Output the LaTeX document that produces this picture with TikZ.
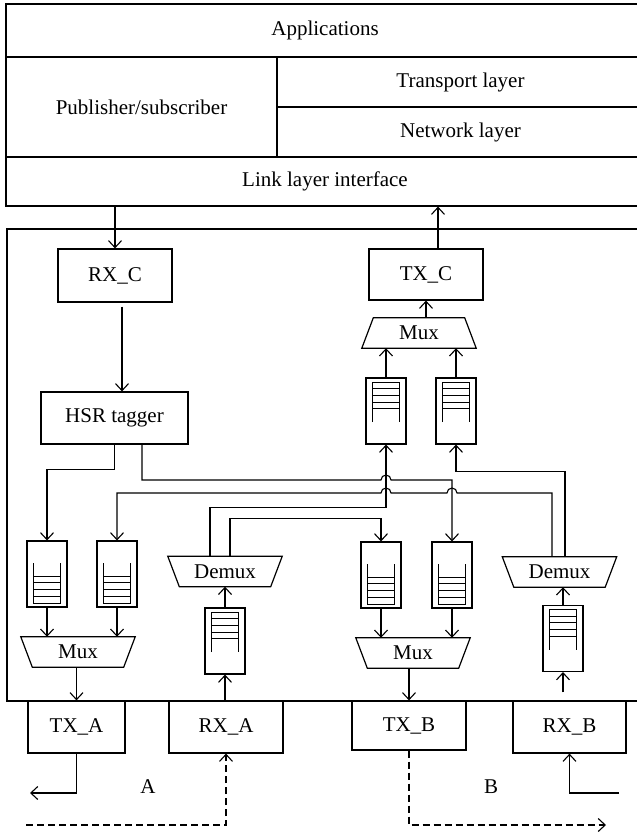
\documentclass[tikz,border=0pt]{standalone}
\usepackage{fontspec}
\setmainfont{Liberation Serif}
\usetikzlibrary{arrows.meta}
\newcommand\trapdown[1]{\draw[line width=1.2pt] (#1.north west) -- (#1.north east) -- ([xshift=-11.5pt]#1.south east) -- ([xshift=11.5pt]#1.south west) -- cycle;}
\newcommand\trapup[1]{\draw[line width=1.2pt] ([xshift=11.5pt]#1.north west) -- ([xshift=-11.5pt]#1.north east) -- (#1.south east) -- (#1.south west) -- cycle;}
\begin{document}
\begin{tikzpicture}[x=1pt,y=-1pt,
  every node/.style={font=\fontsize{21}{24}\selectfont},
  box/.style={draw, rectangle, inner sep=0pt, line width=1.2pt},
  arr/.style={-{Straight Barb[length=7pt,width=13pt]}, line width=1.1pt},
  mux/.style={inner sep=0pt, minimum width=114pt, minimum height=30pt},
  qbox/.style={draw, rectangle, line width=1.1pt, minimum width=40pt, minimum height=66pt, inner sep=0pt},
  qtop/.style={qbox, path picture={
    \draw[line width=1pt] ([shift={(6.5pt,-44pt)}]path picture bounding box.north west) -- ([shift={(6.5pt,-4pt)}]path picture bounding box.north west) -- ([shift={(33.5pt,-4pt)}]path picture bounding box.north west) -- ([shift={(33.5pt,-44pt)}]path picture bounding box.north west);
    \foreach \k in {1,2,3,4} \draw[line width=1pt] ([shift={(6.5pt,{-4pt-6.7pt*\k})}]path picture bounding box.north west) -- ++(27pt,0pt);
  }},
  qbot/.style={qbox, path picture={
    \draw[line width=1pt] ([shift={(6.5pt,-22pt)}]path picture bounding box.north west) -- ([shift={(6.5pt,-62pt)}]path picture bounding box.north west) -- ([shift={(33.5pt,-62pt)}]path picture bounding box.north west) -- ([shift={(33.5pt,-22pt)}]path picture bounding box.north west);
    \foreach \k in {1,2,3,4} \draw[line width=1pt] ([shift={(6.5pt,{-62pt+6.7pt*\k})}]path picture bounding box.north west) -- ++(27pt,0pt);
  }}
]
\useasboundingbox (0,0) rectangle (637,833);

% upper protocol stack
\node[box, minimum width=638pt, minimum height=53pt] (apps) at (325,30.5) {Applications};
\node[box, minimum width=271pt, minimum height=100pt] (pubsub) at (141.5,107) {Publisher/subscriber};
\node[box, minimum width=367pt, minimum height=50pt] (transport) at (460.5,82) {Transport layer};
\node[box, minimum width=367pt, minimum height=50pt] (network) at (460.5,132) {Network layer};
\node[box, minimum width=638pt, minimum height=49pt] (link) at (325,181.5) {Link layer interface};

% main frame
\node[box, minimum width=637pt, minimum height=472pt] (frame) at (325.5,465) {};

% C side
\node[box, minimum width=114pt, minimum height=53pt] (rxc) at (115,275.5) {RX\_C};
\node[box, minimum width=114pt, minimum height=51pt] (txc) at (426,274.5) {TX\_C};
\node[box, minimum width=147pt, minimum height=52pt] (hsr) at (114.5,418) {HSR tagger};
\node[mux] (muxC) at (419,333) {Mux};
\trapup{muxC}
\node[qtop] (qC1) at (386,411) {};
\node[qtop] (qC2) at (456,411) {};

% A side
\node[qbot] (qA1) at (47,574) {};
\node[qbot] (qA2) at (117,574) {};
\node[mux] (muxA) at (78,652) {Mux};
\trapdown{muxA}
\node[mux] (demuxA) at (225,571.5) {Demux};
\trapdown{demuxA}
\node[qtop] (qA3) at (225,641) {};

% B side
\node[qbot] (qB1) at (381,575) {};
\node[qbot] (qB2) at (452,575) {};
\node[mux] (muxB) at (413,653) {Mux};
\trapdown{muxB}
\node[mux] (demuxB) at (559.5,572) {Demux};
\trapdown{demuxB}
\node[qtop] (qB3) at (563,638.5) {};

% ports
\node[box, minimum width=97pt, minimum height=52pt] (txa) at (76.5,727) {TX\_A};
\node[box, minimum width=114pt, minimum height=52pt] (rxa) at (226,727) {RX\_A};
\node[box, minimum width=114pt, minimum height=49pt] (txb) at (409,725.5) {TX\_B};
\node[box, minimum width=113pt, minimum height=52pt] (rxb) at (569.5,727) {RX\_B};

\node (labA) at (148,787) {A};
\node (labB) at (491,787) {B};

% stack connections
\draw[arr] (rxc.north |- link.south) -- (rxc.north);
\coordinate (tcup) at ([xshift=12pt]txc.north);
\draw[arr] (tcup) -- (tcup |- link.south);
\coordinate (rh) at ([xshift=7pt]rxc.south);
\draw[arr, shorten <=4pt] (rh) -- (rh |- hsr.north);

% C mux
\draw[arr] (muxC.north -| txc.south) -- (txc.south);
\draw[arr] (qC1.north) -- (qC1.north |- muxC.south);
\draw[arr] (qC2.north) -- (qC2.north |- muxC.south);

% A mux / demux
\draw[arr] (qA1.south) -- (qA1.south |- muxA.north);
\draw[arr] (qA2.south) -- (qA2.south |- muxA.north);
\draw[arr] (txa.north |- muxA.south) -- (txa.north);
\draw[arr] (qA3.north) -- (qA3.north |- demuxA.south);
\draw[arr] (qA3.south |- rxa.north) -- (qA3.south);

% B mux / demux
\draw[arr] (qB1.south) -- (qB1.south |- muxB.north);
\draw[arr] (qB2.south) -- (qB2.south |- muxB.north);
\draw[arr] (txb.north |- muxB.south) -- (txb.north);
\draw[arr] (qB3.north) -- (qB3.north |- demuxB.south);
\draw[arr, shorten <=8pt] (qB3.south |- rxb.north) -- (qB3.south);

% HSR tagger outputs
\draw[arr] (hsr.south) -- ++(0,25) -| (qA1.north);
\draw[arr] ([xshift=27.5pt]hsr.south) |- (381,480) arc[start angle=180, end angle=0, radius=5pt] -| (qB2.north);

% demux A outputs
\draw[arr] ([xshift=-15pt]demuxA.north) -- ++(0,-49) -| (qC1.south);
\draw[arr] ([xshift=5pt]demuxA.north) -- ++(0,-38) -| (qB1.north);

% demux B outputs
\draw[arr] ([xshift=-7.5pt]demuxB.north) |- (457,493) arc[start angle=0, end angle=180, radius=5pt] -- (391,493) arc[start angle=0, end angle=180, radius=5pt] -| (qA2.north);
\draw[arr] ([xshift=5.5pt]demuxB.north) -- ++(0,-85) -| (qC2.south);

% ring connections
\coordinate (outA) at (30,793);
\coordinate (inA) at (26,825);
\coordinate (outB) at (606,825);
\coordinate (inB) at (619,793);
\draw[arr] (txa.south) |- (outA);
\draw[arr, dash pattern=on 7pt off 4pt] (inA) -| (rxa.south);
\draw[arr, dash pattern=on 7pt off 4pt] (txb.south) |- (outB);
\draw[arr] (inB) -| (rxb.south);
\end{tikzpicture}
\end{document}
